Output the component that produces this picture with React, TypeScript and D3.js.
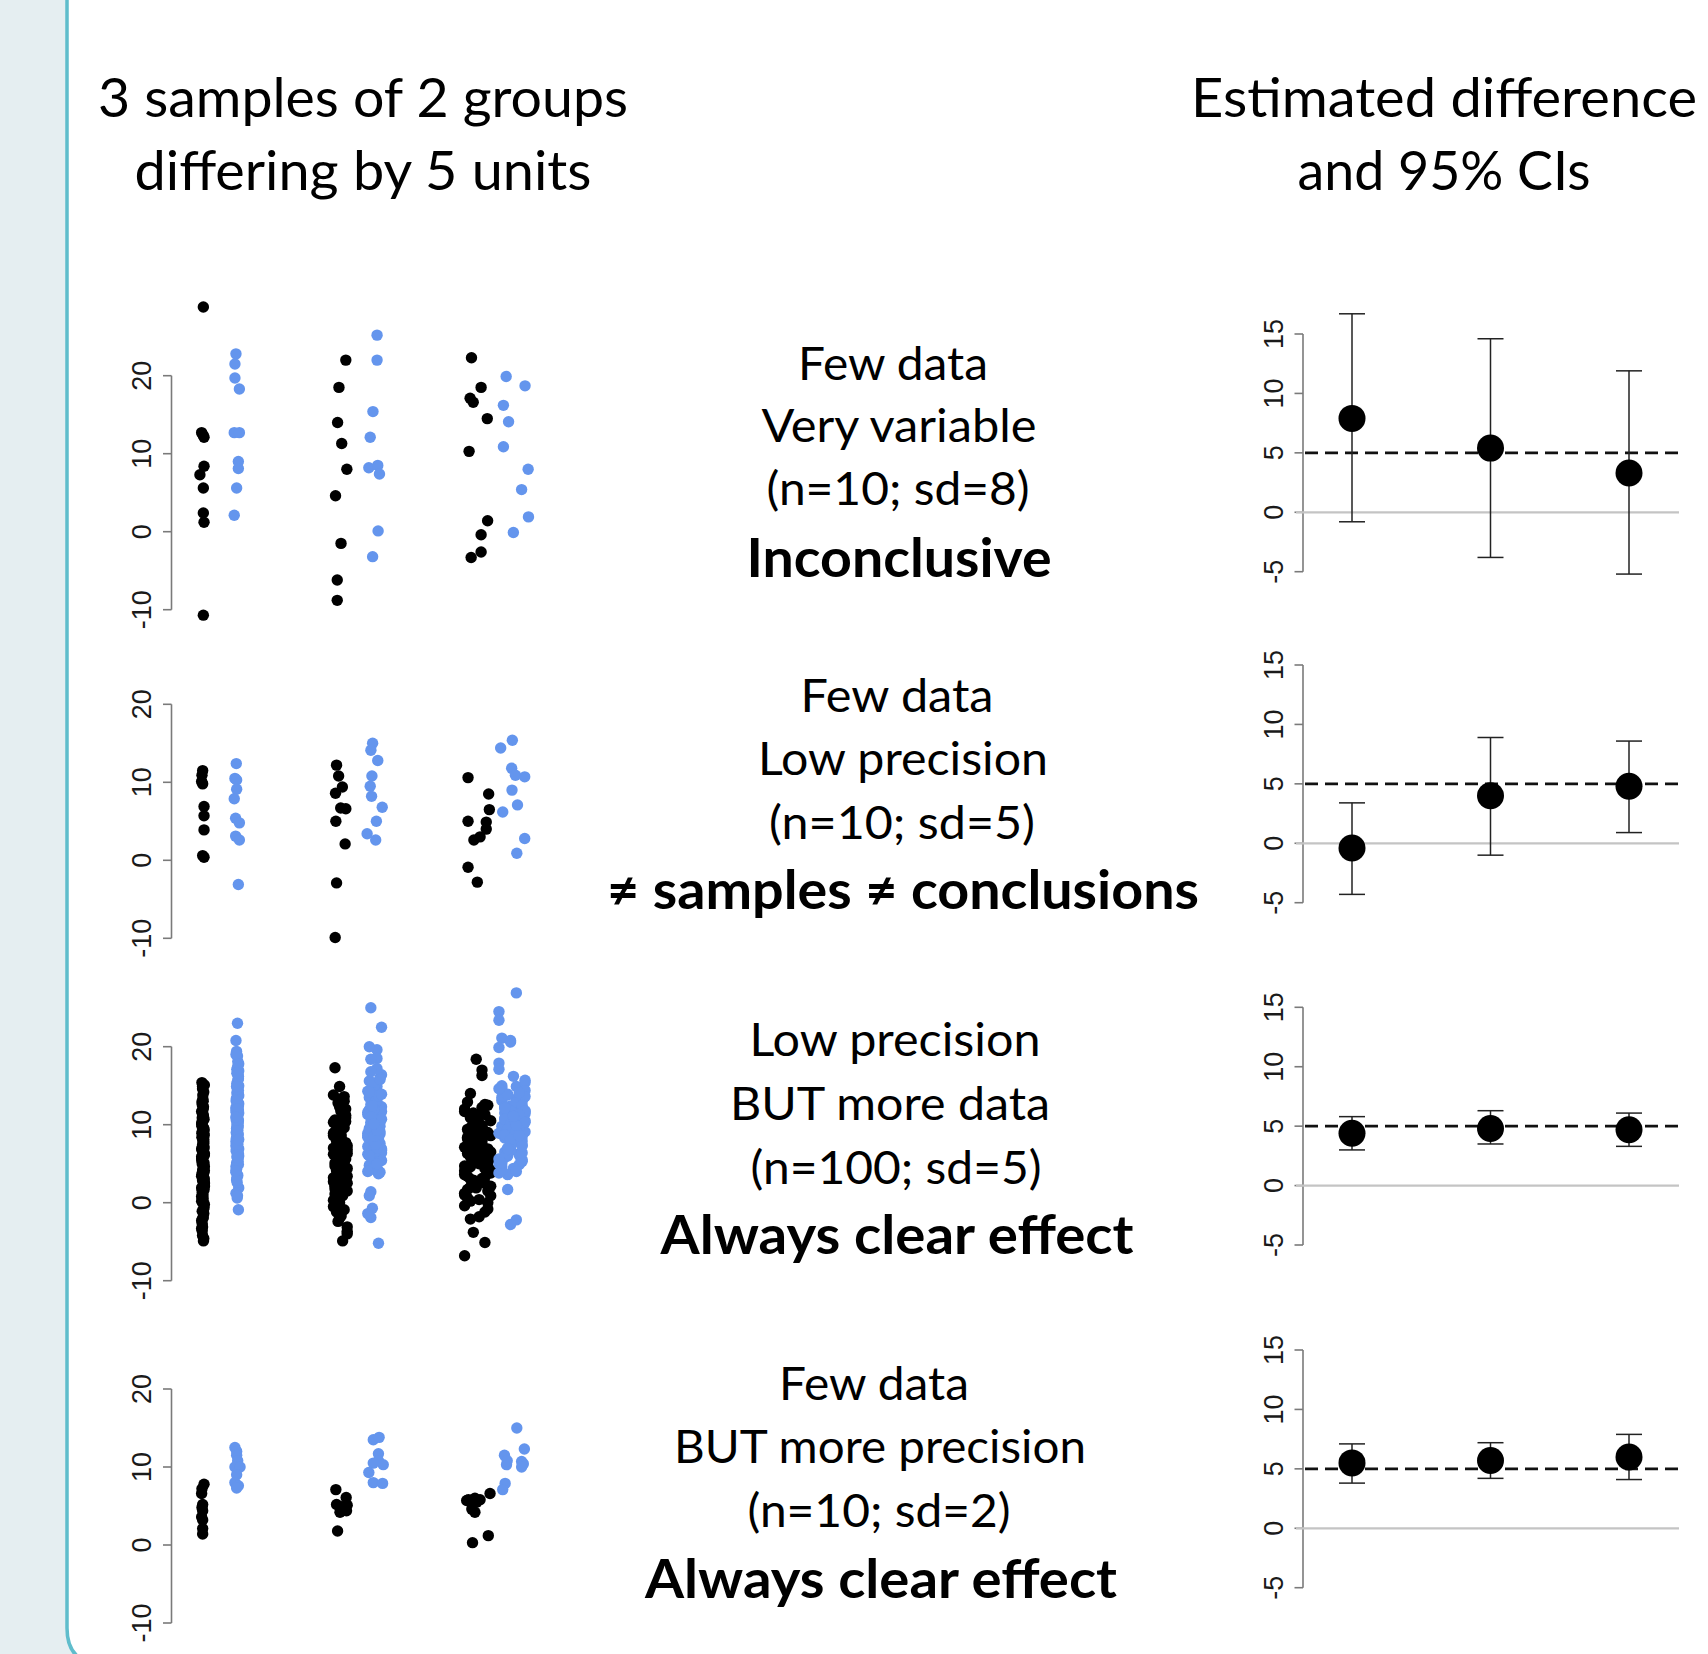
import React from 'react';
import * as d3 from 'd3';

const W = 1708;
const H = 1654;
const BLUE = '#6495ed';

// ---- left column: raw data, 3 samples x 2 groups per row ----
// row 1: n=10, sd=8
const p1Black = [
  [28.8, 12.7, 12.4, 12.1, 8.4, 7.3, 5.6, 2.4, 1.2, -10.7],
  [22.0, 18.5, 14.0, 11.3, 8.0, 4.6, -1.5, -6.2, -8.8],
  [22.3, 18.5, 17.1, 16.6, 14.5, 10.3, 1.4, -0.4, -2.6, -3.3],
];
const p1BlackJit = [
  [0.01, -0.04, 0.0, 0.03, 0.03, -0.09, 0.01, 0.01, 0.03, 0.01],
  [0.16, -0.04, -0.08, 0.04, 0.19, -0.14, 0.02, -0.09, -0.09],
  [-0.18, 0.1, -0.22, -0.13, 0.28, -0.25, 0.29, 0.1, 0.1, -0.19],
];
const p1Blue = [
  [22.8, 21.5, 19.7, 18.3, 12.7, 12.7, 9.0, 8.1, 5.6, 2.1],
  [25.2, 22.0, 15.4, 12.1, 8.2, 8.5, 7.4, 0.1, -3.2],
  [19.9, 18.7, 16.2, 14.1, 10.9, 8.0, 5.4, 1.9, -0.1],
];
const p1BlueJit = [
  [-0.04, -0.07, -0.07, 0.06, -0.09, 0.06, 0.03, 0.03, -0.02, -0.09],
  [0.07, 0.07, -0.05, -0.13, -0.17, 0.09, 0.14, 0.1, -0.06],
  [-0.17, 0.38, -0.25, -0.1, -0.25, 0.47, 0.28, 0.48, 0.04],
];

// row 2: n=10, sd=5
const p2Black = [
  [11.5, 10.9, 10.1, 9.8, 6.9, 5.7, 3.9, 0.6, 0.4],
  [12.2, 10.8, 9.4, 8.6, 6.7, 6.6, 5.0, 2.1, -2.9, -9.9],
  [10.6, 8.5, 6.5, 5.0, 4.9, 4.0, 3.0, 2.6, -0.9, -2.8],
];
const p2BlackJit = [
  [-0.01, -0.03, -0.04, -0.01, 0.03, 0.03, 0.03, -0.01, 0.03],
  [-0.11, -0.05, 0.06, -0.14, 0.01, 0.16, -0.13, 0.14, -0.11, -0.15],
  [-0.28, 0.32, 0.34, -0.28, 0.25, 0.25, 0.07, -0.11, -0.28, -0.01],
];
const p2Blue = [
  [12.4, 10.5, 10.3, 9.1, 7.9, 5.4, 4.8, 3.1, 2.6, -3.1],
  [15.0, 14.1, 12.8, 10.8, 9.5, 8.2, 6.8, 5.0, 3.4, 2.6],
  [15.4, 14.4, 11.8, 10.9, 10.7, 9.0, 7.1, 6.2, 2.8, 0.9],
];
const p2BlueJit = [
  [-0.03, -0.07, -0.02, -0.02, -0.09, -0.05, 0.06, -0.05, 0.06, 0.03],
  [-0.06, -0.11, 0.09, -0.08, -0.13, -0.09, 0.22, 0.05, -0.22, 0.03],
  [0.01, -0.33, -0.01, 0.1, 0.37, 0.0, 0.16, -0.27, 0.37, 0.14],
];

// row 3: n=100, sd=5
const p3Black = [
  [5.2, 3.1, 9.8, -1.4, 6.7, 12.3, 0.8, 4.4, 7.9, 2.6, 15.4, -4.9, 8.3, 5.9, 1.7, 10.6, 3.8, -2.7, 6.1, 13.8,
    4.9, 0.2, 7.2, 9.1, 2.1, 11.4, -0.6, 5.5, 14.6, 3.3, 8.8, -3.6, 6.4, 1.1, 10.1, 4.1, 12.9, -1.9, 7.6, 2.9,
    5.0, 15.1, 0.5, 9.4, 3.6, -4.2, 6.9, 11.0, 1.5, 8.1, 4.7, -2.3, 13.3, 5.7, 2.4, 10.9, -0.2, 7.4, 3.0, 12.0,
    6.3, -3.1, 9.6, 1.9, 4.3, 14.2, 0.9, 8.6, 5.4, -1.1, 11.7, 2.8, 7.0, 3.9, -4.6, 10.3, 6.0, 1.3, 13.0, 4.6,
    -0.9, 8.9, 2.2, 12.6, 5.1, 0.0, 9.3, 3.4, 14.9, 6.6, -2.0, 7.8, 1.6, 11.2, 4.0, -3.3, 10.7, 2.5, 6.2, 8.4],
  [5.4, 2.1, 8.7, 0.3, 6.6, 11.2, 3.9, 7.3, -1.2, 9.8, 4.6, 13.4, 1.5, 6.1, 10.4, 3.0, 8.0, -0.5, 5.0, 12.3,
    2.7, 7.7, 14.9, 4.2, 9.3, 0.9, 6.9, 11.8, 3.4, -2.4, 8.4, 5.7, 1.8, 10.9, 4.0, 7.0, 13.0, 2.4, 9.0, -3.1,
    6.3, 0.0, 11.5, 5.2, 8.9, 3.6, 12.8, 1.1, 7.5, 4.8, 17.3, 9.6, 2.9, 6.0, -1.7, 10.1, 4.4, 8.2, 0.6, 13.8,
    5.9, 3.2, 7.9, -3.7, 11.0, 2.0, 6.5, 9.4, 4.7, 1.4, 12.0, 7.1, -0.9, 5.5, 10.6, 3.8, 8.6, 0.2, 6.8, -4.9,
    9.9, 2.5, 5.1, 11.7, 4.1, 7.4, 1.0, 13.6, 6.2, -2.0, 8.8, 3.3, 10.3, 5.6, -4.0, 7.7, 2.2, 9.1, 4.9, 6.4],
  [5.3, 8.6, 2.0, 10.8, 4.1, 7.2, 0.6, 12.5, 6.0, 3.3, 9.4, -0.8, 5.8, 11.3, 2.7, 7.9, 4.6, 1.2, 10.1, 6.5,
    14.0, 3.8, 8.2, -1.8, 5.1, 12.0, 2.3, 7.0, 9.9, 4.4, 0.0, 6.8, 11.7, 3.1, 8.9, 5.6, -2.1, 10.5, 1.7, 7.5,
    17.0, 4.9, 9.1, 2.9, 6.2, 12.9, 0.9, 8.0, 3.6, 5.0, 10.3, -0.4, 7.4, 18.4, 4.2, 9.6, 1.5, 6.6, 11.1, 2.5,
    8.4, 5.4, -3.8, 3.9, 10.9, 7.1, 0.4, 6.0, 9.2, 16.3, 4.7, 1.9, 8.7, 5.9, 12.2, 3.4, -1.2, 7.7, 2.1, 10.0,
    6.3, 4.0, 11.5, -5.1, 8.1, 1.0, 5.2, 9.7, 3.0, 6.9, -6.8, 12.6, 4.5, 7.3, 0.2, 9.0, 2.6, 5.7, 8.3, 6.7],
];
const p3Blue = [
  [10.2, 7.8, 13.6, 5.1, 11.9, 9.0, 16.4, 3.2, 12.7, 8.4, 19.4, 6.3, 10.9, 14.8, 1.9, 9.6, 11.3, 4.6, 17.5, 8.0,
    12.1, 6.9, 15.3, 10.5, 0.6, 13.1, 7.3, 9.9, 18.8, 5.6, 11.6, 8.7, 14.1, 3.9, 10.0, 16.9, 7.0, 12.4, 2.6, 9.3,
    20.8, 6.0, 11.1, 15.7, 8.2, 13.9, 4.3, 10.7, 17.1, 7.6, 12.9, 1.2, 9.5, 14.4, 5.9, 11.5, 8.9, 18.1, 6.6, 10.4,
    13.3, 3.5, 9.1, 15.0, 7.2, 12.2, 23.0, 5.3, 10.8, 16.2, 8.5, 13.7, 2.9, 11.8, 6.8, 9.7, 14.6, 4.9, 12.6, 7.9,
    19.0, 10.1, 15.9, 0.9, 8.8, 13.0, 6.2, 11.4, 17.8, 9.2, 4.1, 12.0, 7.5, 14.9, -0.9, 10.6, 8.1, 16.6, 5.8, 11.0],
  [10.3, 7.6, 13.2, 5.4, 11.8, 8.9, 15.6, 4.1, 12.5, 9.4, 6.7, 14.3, 10.9, 3.7, 8.2, 19.6, 11.4, 6.1, 13.8, 9.0,
    12.1, 4.8, 16.4, 7.9, 10.6, 25.0, 8.6, 14.9, 5.9, 11.1, 9.7, 13.5, 3.9, 18.5, 7.2, 12.8, 10.0, 6.4, 15.1, 8.0,
    1.4, 11.6, 9.2, 14.0, 4.5, 12.3, 7.4, 20.0, 10.4, 5.6, 13.0, 8.4, 16.0, 9.9, -1.9, 11.9, 6.9, 14.6, 4.3, 10.8,
    12.6, 7.8, 22.5, 9.5, 5.2, 13.3, 8.8, 17.2, 11.3, 6.6, 0.9, 12.9, 9.1, 15.4, 7.0, 10.2, 4.0, 18.4, 11.7, 8.3,
    13.7, -0.7, 6.2, 14.2, 9.8, 12.0, 5.0, 10.7, 16.8, 7.5, 11.0, -5.2, 8.5, 13.9, 6.0, 12.4, 9.3, -1.4, 15.8, 10.1],
  [10.2, 6.8, 13.5, 4.4, 11.7, 8.3, 14.9, 5.6, 12.4, 9.0, 7.1, 26.9, 10.8, 3.8, 13.0, 8.8, 11.2, 6.0, 15.4, 9.5,
    12.0, 4.9, 24.5, 7.6, 10.5, 13.8, 5.3, 11.5, 8.0, 21.1, 9.8, 14.4, 6.5, 12.7, 3.6, 10.0, 17.9, 7.9, 11.9, 9.3,
    13.3, 5.0, 20.6, 8.5, 12.2, 6.3, 14.7, 10.4, 1.7, 9.1, 11.0, 7.4, 16.2, 4.6, 12.9, 8.9, 20.8, 10.7, 6.1, 13.6,
    9.6, 5.8, 11.4, 23.4, 8.2, 12.5, 7.0, 15.0, 4.0, 10.1, 13.1, 9.4, -2.2, 11.8, 6.7, 14.1, 8.7, 19.9, 10.9, 5.5,
    12.3, 7.7, 17.1, 9.2, 4.2, 11.3, 13.9, 6.4, 10.3, -2.8, 8.1, 14.6, 7.3, 12.1, 9.9, 5.1, 15.7, 11.1, 8.6, 6.9],
];
// jitter digits (0-9) for the dense row, one string per group
const p3BlackJitDigits = [
  '3817260549163085729450729481368264091573295813064770416293859360574812048371625961928470354725308961',
  '7150384926269381507408472615935318407629946207318517865293403029648517857413029669152837044208967153',
  '5924061837183746205929158034678406372915627381940530649281571839205746048261739519375046280716284935',
];
const p3BlueJitDigits = [
  '6042817395281593706419384207561730592846094618273550283946171649205738392017586403857162940562819370',
  '2859401736903726185441938206573186042957205739418660852194372491738605158364029773018469252749136084',
  '8315926047462081739557049382611927350846604827153938516042797290583164136947205825061738944082619573',
];
const p3JitSpread = [0.04, 0.2, 0.38];

// row 4: n=10, sd=2
const p4Black = [
  [7.8, 7.2, 6.6, 5.2, 4.8, 4.4, 3.6, 3.2, 2.1, 1.4],
  [7.1, 6.1, 5.2, 5.1, 4.9, 4.6, 4.4, 4.2, 1.8],
  [5.8, 6.0, 5.8, 5.5, 6.6, 4.6, 4.2, 0.3, 1.2, 5.7],
];
const p4BlackJit = [
  [0.03, -0.03, -0.04, -0.01, -0.03, -0.01, -0.04, -0.01, -0.01, -0.01],
  [-0.13, 0.17, -0.11, 0.2, 0.04, 0.09, 0.18, -0.01, -0.08],
  [-0.27, -0.08, 0.07, -0.03, 0.36, -0.17, -0.08, -0.15, 0.31, -0.32],
];
const p4Blue = [
  [12.5, 12.0, 11.5, 10.8, 10.0, 10.0, 9.0, 8.0, 7.6, 7.3],
  [13.5, 13.8, 11.7, 10.8, 10.5, 10.3, 9.3, 8.0, 7.9],
  [15.0, 12.3, 11.5, 10.3, 10.7, 10.4, 10.0, 7.9, 7.1, 10.8],
];
const p4BlueJit = [
  [-0.07, -0.02, -0.02, 0.01, -0.07, 0.08, -0.02, -0.07, 0.03, -0.02],
  [-0.04, 0.13, 0.11, 0.11, -0.04, 0.25, -0.17, -0.04, 0.23],
  [0.14, 0.36, -0.22, -0.16, 0.28, 0.33, 0.28, -0.2, -0.27, -0.14],
];

// ---- right column: estimated difference and 95% CI ----
const ciEst = [
  [7.9, 5.4, 3.3],
  [-0.4, 4.0, 4.8],
  [4.4, 4.8, 4.7],
  [5.5, 5.7, 6.0],
];
const ciLow = [
  [-0.8, -3.8, -5.2],
  [-4.3, -1.0, 0.9],
  [3.0, 3.5, 3.3],
  [3.8, 4.2, 4.1],
];
const ciHigh = [
  [16.7, 14.6, 11.9],
  [3.4, 8.9, 8.6],
  [5.8, 6.3, 6.1],
  [7.1, 7.2, 7.9],
];
const trueDiff = 5;

const stripTicks = [-10, 0, 10, 20];
const ciTicks = [-5, 0, 5, 10, 15];

// ---- texts ----
const leftTitle = ['3 samples of 2 groups', 'differing by 5 units'];
const rightTitle = ['Estimated difference', 'and 95% CIs'];
const rowLabels = [
  ['Few data', 'Very variable', '(n=10; sd=8)', 'Inconclusive'],
  ['Few data', 'Low precision', '(n=10; sd=5)', '\u2260 samples \u2260 conclusions'],
  ['Low precision', 'BUT more data', '(n=100; sd=5)', 'Always clear effect'],
  ['Few data', 'BUT more precision', '(n=10; sd=2)', 'Always clear effect'],
];

// layout
const stripTops = [375.7, 704.3, 1046.7, 1389];
const ciTops = [334, 665, 1007.3, 1350];
const labelBase = [
  [380, 442, 505, 577],
  [712, 775, 839, 909],
  [1056, 1120, 1184, 1254],
  [1400, 1463, 1527, 1598],
];
const labelX = [
  [893, 899, 898, 899],
  [897, 903, 902, 903],
  [895, 890, 896, 897],
  [874, 880, 879, 881],
];
const labelW = [
  [190, 275, 263, 305],
  [193, 290, 266, 592],
  [291, 320, 291, 473],
  [190, 412, 263, 472],
];

const textFont = "Lato, 'Open Sans', 'DejaVu Sans', sans-serif";
const axisFont = "'Liberation Sans', Arial, sans-serif";

const xStrip = d3.scaleLinear().domain([0, 9]).range([203, 512]);
const groupPos = [[0, 1], [4, 5], [8, 9]];
const DOT_R = 5.7;

function decodeJit(s: string, n: number, spread: number) {
  return d3.range(n).map((i) => ((+s[i % s.length] - 4.5) / 4.5) * spread);
}

function StripPanel({ top, black, blackJit, blue, blueJit }: any) {
  const y = d3.scaleLinear().domain([-10, 20]).range([top + 234, top]);
  const axisX = 171.5;
  return (
    <g>
      <line x1={axisX} x2={axisX} y1={y(-10)} y2={y(20)} stroke="#7a7a7a" strokeWidth={1.6} />
      {stripTicks.map((t) => (
        <g key={t}>
          <line x1={axisX - 8.5} x2={axisX} y1={y(t)} y2={y(t)} stroke="#7a7a7a" strokeWidth={1.6} />
          <text
            transform={`translate(${axisX - 21},${y(t)}) rotate(-90)`}
            textAnchor="middle"
            fontFamily={axisFont}
            fontSize={27}
            fill="#1a1a1a"
          >
            {String(t)}
          </text>
        </g>
      ))}
      {groupPos.map(([gb, gl], s) => (
        <g key={s}>
          {black[s].map((v: number, i: number) => (
            <circle key={'k' + i} cx={xStrip(gb + blackJit[s][i])} cy={y(v)} r={DOT_R} fill="#000" />
          ))}
          {blue[s].map((v: number, i: number) => (
            <circle key={'b' + i} cx={xStrip(gl + blueJit[s][i])} cy={y(v)} r={DOT_R} fill={BLUE} />
          ))}
        </g>
      ))}
    </g>
  );
}

function CIPanel({ top, est, lo, hi }: any) {
  const y = d3.scaleLinear().domain([-5, 15]).range([top + 237.7, top]);
  const x = d3.scaleLinear().domain([1, 3]).range([1352, 1629]);
  const axisX = 1303;
  return (
    <g>
      <line x1={axisX} x2={axisX} y1={y(-5)} y2={y(15)} stroke="#7a7a7a" strokeWidth={1.6} />
      {ciTicks.map((t) => (
        <g key={t}>
          <line x1={axisX - 8.5} x2={axisX} y1={y(t)} y2={y(t)} stroke="#7a7a7a" strokeWidth={1.6} />
          <text
            transform={`translate(${axisX - 20},${y(t)}) rotate(-90)`}
            textAnchor="middle"
            fontFamily={axisFont}
            fontSize={27}
            fill="#1a1a1a"
          >
            {String(t)}
          </text>
        </g>
      ))}
      <line x1={1296} x2={1679} y1={y(0)} y2={y(0)} stroke="#c4c4c4" strokeWidth={2.2} />
      <line
        x1={1305}
        x2={1680}
        y1={y(trueDiff)}
        y2={y(trueDiff)}
        stroke="#111"
        strokeWidth={2.7}
        strokeDasharray="13 7"
      />
      {est.map((e: number, i: number) => {
        const cx = x(i + 1);
        return (
          <g key={i}>
            <line x1={cx} x2={cx} y1={y(lo[i])} y2={y(hi[i])} stroke="#222" strokeWidth={1.5} />
            <line x1={cx - 13} x2={cx + 13} y1={y(lo[i])} y2={y(lo[i])} stroke="#222" strokeWidth={1.5} />
            <line x1={cx - 13} x2={cx + 13} y1={y(hi[i])} y2={y(hi[i])} stroke="#222" strokeWidth={1.5} />
            <circle cx={cx} cy={y(e)} r={13.5} fill="#000" />
          </g>
        );
      })}
    </g>
  );
}

export default function App() {
  const strips = [
    { black: p1Black, blackJit: p1BlackJit, blue: p1Blue, blueJit: p1BlueJit },
    { black: p2Black, blackJit: p2BlackJit, blue: p2Blue, blueJit: p2BlueJit },
    {
      black: p3Black,
      blackJit: p3Black.map((a, s) => decodeJit(p3BlackJitDigits[s], a.length, p3JitSpread[s])),
      blue: p3Blue,
      blueJit: p3Blue.map((a, s) => decodeJit(p3BlueJitDigits[s], a.length, p3JitSpread[s])),
    },
    { black: p4Black, blackJit: p4BlackJit, blue: p4Blue, blueJit: p4BlueJit },
  ];

  return (
    <div style={{ position: 'absolute', left: 0, top: 0 }}>
      <svg width={W} height={H} style={{ display: 'block', background: '#fff' }}>
        {/* slide frame */}
        <path d="M0,0 L67,0 L67,1628 Q67,1664 103,1664 L0,1664 Z" fill="#e5eef1" />
        <path d="M67,-2 L67,1628 Q67,1664 103,1664" fill="none" stroke="#5fbdcc" strokeWidth={3.5} />

        {leftTitle.map((t, i) => (
          <text
            key={t}
            x={363}
            y={117 + i * 73}
            textAnchor="middle"
            fontFamily={textFont}
            fontSize={55}
            textLength={i === 0 ? 530 : 457}
            lengthAdjust="spacingAndGlyphs"
          >
            {t}
          </text>
        ))}
        {rightTitle.map((t, i) => (
          <text
            key={t}
            x={1444}
            y={117 + i * 73}
            textAnchor="middle"
            fontFamily={textFont}
            fontSize={55}
            textLength={i === 0 ? 506 : 293}
            lengthAdjust="spacingAndGlyphs"
          >
            {t}
          </text>
        ))}

        {strips.map((p, r) => (
          <StripPanel key={r} top={stripTops[r]} {...p} />
        ))}

        {rowLabels.map((lines, r) => (
          <g key={r}>
            {lines.map((t, i) => (
              <text
                key={i}
                x={labelX[r][i]}
                y={labelBase[r][i]}
                textAnchor="middle"
                fontFamily={textFont}
                fontSize={i === 3 ? 53 : 47}
                fontWeight={i === 3 ? 700 : 400}
                textLength={labelW[r][i]}
                lengthAdjust="spacingAndGlyphs"
              >
                {t}
              </text>
            ))}
          </g>
        ))}

        {ciEst.map((e, r) => (
          <CIPanel key={r} top={ciTops[r]} est={e} lo={ciLow[r]} hi={ciHigh[r]} />
        ))}
      </svg>
    </div>
  );
}
